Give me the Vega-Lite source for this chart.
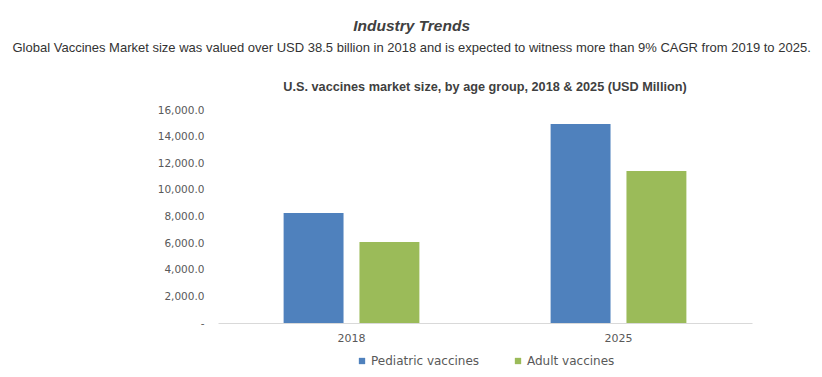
{
  "$schema": "https://vega.github.io/schema/vega-lite/v6.json",
  "background": "white",
  "padding": {"left": 12, "top": 18, "right": 5, "bottom": 5},
  "config": {"view": {"stroke": null}, "legend": {"layout": {"bottom": {"anchor": "middle"}}}},
  "title": {
    "text": "Industry Trends",
    "font": "Liberation Sans",
    "fontSize": 15.5,
    "fontStyle": "italic",
    "fontWeight": "bold",
    "color": "#404040",
    "anchor": "middle",
    "offset": 8
  },
  "vconcat": [
    {
      "title": {
        "text": "Global Vaccines Market size was valued over USD 38.5 billion in 2018 and is expected to witness more than 9% CAGR from 2019 to 2025.",
        "font": "Liberation Sans",
        "fontSize": 13,
        "fontWeight": "normal",
        "color": "#333333",
        "anchor": "middle",
        "dx": -43,
        "offset": 26
      },
      "vconcat": [
        {
          "title": {
            "text": "U.S. vaccines market size, by age group, 2018 & 2025 (USD Million)",
            "font": "Liberation Sans",
            "fontSize": 12.7,
            "fontWeight": "bold",
            "color": "#404040",
            "anchor": "middle",
            "offset": 11
          },
          "width": 534,
          "height": 213,
          "data": {
            "values": [
              {"year": "2018", "group": "Pediatric vaccines", "value": 8264},
              {"year": "2018", "group": "Adult vaccines", "value": 6085},
              {"year": "2025", "group": "Pediatric vaccines", "value": 14951},
              {"year": "2025", "group": "Adult vaccines", "value": 11420}
            ]
          },
          "mark": {"type": "bar"},
          "encoding": {
            "x": {
              "field": "year",
              "type": "nominal",
              "scale": {"paddingInner": 0, "paddingOuter": 0},
              "axis": {
                "title": null,
                "labelAngle": 0,
                "ticks": false,
                "domainColor": "#D9D9D9",
                "labelFont": "DejaVu Sans",
                "labelFontSize": 11,
                "labelColor": "#595959",
                "labelPadding": 9
              }
            },
            "xOffset": {
              "field": "group",
              "type": "nominal",
              "sort": ["Pediatric vaccines", "Adult vaccines"],
              "scale": {"paddingInner": 0.21, "paddingOuter": 0.865}
            },
            "y": {
              "field": "value",
              "type": "quantitative",
              "scale": {"domain": [0, 16000], "nice": false},
              "axis": {
                "title": null,
                "values": [0, 2000, 4000, 6000, 8000, 10000, 12000, 14000, 16000],
                "labelExpr": "datum.value == 0 ? '-' : format(datum.value, ',.1f')",
                "domain": false,
                "ticks": false,
                "grid": false,
                "labelFont": "DejaVu Sans",
                "labelFontSize": 10.5,
                "labelColor": "#595959",
                "labelPadding": 14
              }
            },
            "color": {
              "field": "group",
              "type": "nominal",
              "sort": ["Pediatric vaccines", "Adult vaccines"],
              "scale": {"domain": ["Pediatric vaccines", "Adult vaccines"], "range": ["#4F81BD", "#9BBB59"]},
              "legend": {
                "title": null,
                "orient": "bottom",
                "direction": "horizontal",
                "symbolType": "square",
                "symbolSize": 40,
                "symbolStrokeWidth": 0,
                "labelFont": "DejaVu Sans",
                "labelFontSize": 12,
                "labelColor": "#595959",
                "labelOffset": 3,
                "columnPadding": 32,
                "offset": 12
              }
            }
          }
        }
      ]
    }
  ]
}
